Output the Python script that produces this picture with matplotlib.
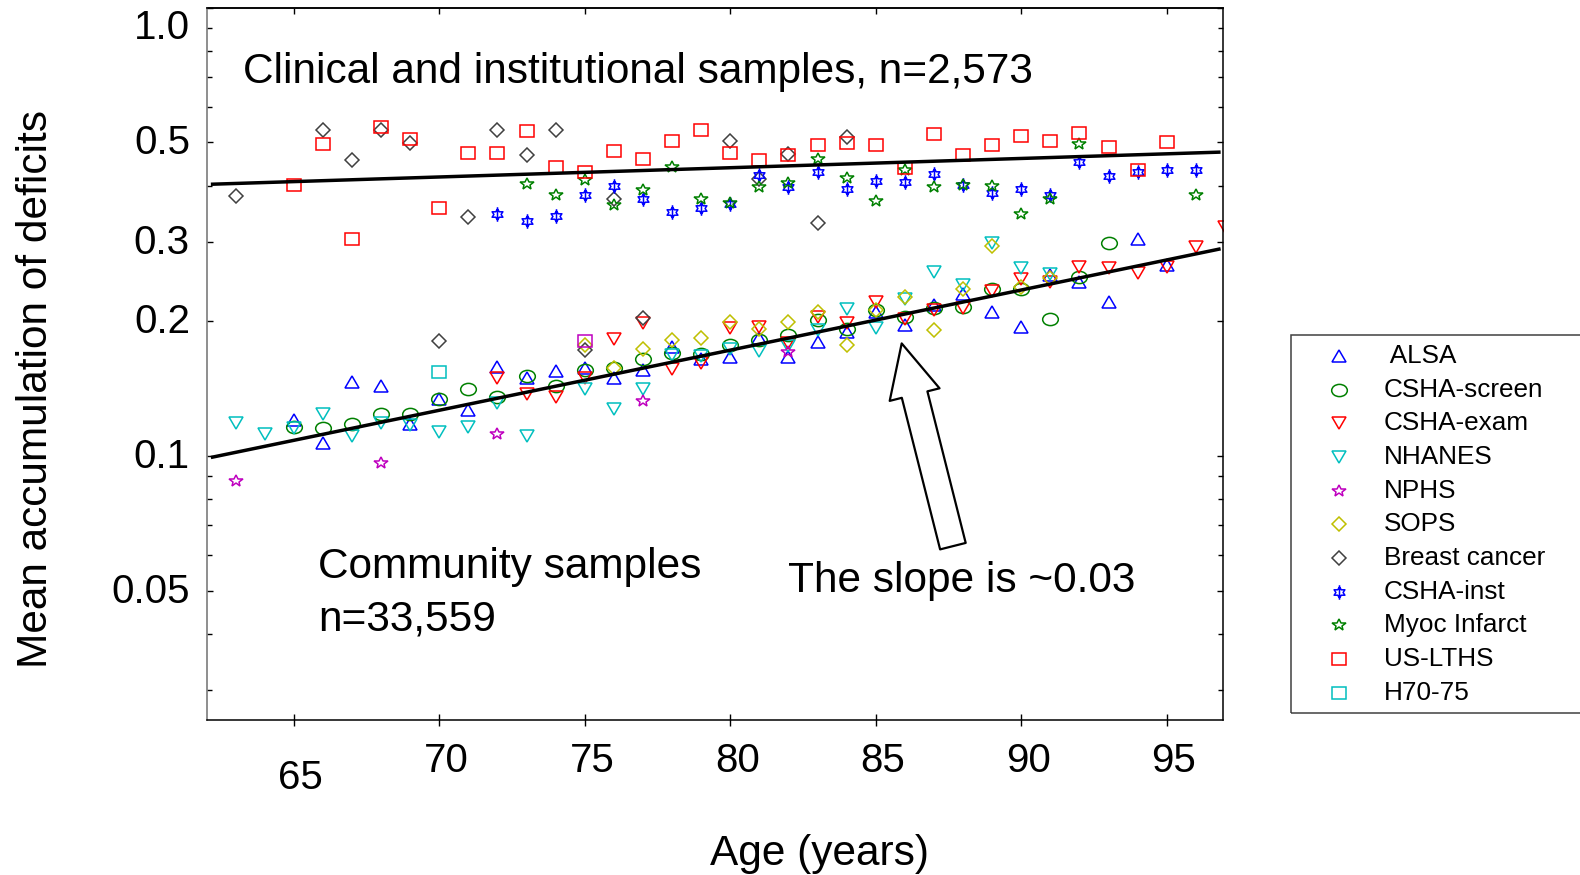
import numpy as np
import matplotlib
matplotlib.use("Agg")
import matplotlib.pyplot as plt
from matplotlib.markers import MarkerStyle
from matplotlib.path import Path
from matplotlib.transforms import Affine2D, ScaledTranslation
from matplotlib.patches import Rectangle, ArrowStyle
from matplotlib.lines import Line2D
from matplotlib.ticker import NullFormatter, NullLocator

plt.rcParams['font.family'] = ['Liberation Sans', 'DejaVu Sans']

# ---------------- data: mean deficit index by age ----------------
alsa_age = list(range(65, 96))
alsa_val = [0.120, 0.1068, 0.1462, 0.143, 0.1174, 0.134, 0.1263, 0.1574, 0.1494, 0.1544,
            0.1565, 0.149, 0.155, 0.175, 0.164, 0.166, 0.1826, 0.166, 0.1795, 0.189,
            0.2094, 0.1956, 0.2168, 0.230, 0.2094, 0.194, 0.2529, 0.2443, 0.2205, 0.3038, 0.266]

cshas_age = list(range(65, 94))
cshas_val = [0.116, 0.115, 0.1174, 0.1236, 0.124, 0.134, 0.1408, 0.1353, 0.1505, 0.1432,
             0.155, 0.157, 0.164, 0.1697, 0.169, 0.177, 0.181, 0.186, 0.201, 0.192,
             0.2113, 0.204, 0.213, 0.215, 0.236, 0.236, 0.2014, 0.2507, 0.2985]

cshae_age = list(range(72, 98))
cshae_val = [0.1494, 0.1376, 0.1349, 0.149, 0.182, 0.1973, 0.156, 0.161, 0.193, 0.194,
             0.1786, 0.204, 0.198, 0.2205, 0.202, 0.2113, 0.214, 0.2332, 0.2473, 0.2443,
             0.2638, 0.2617, 0.2559, 0.2638, 0.2924, 0.324]

nhanes_age = [63, 64, 65, 66, 67, 68, 69, 70, 71, 72, 73, 75, 76, 77, 78, 79, 80, 81,
              82, 83, 84, 85, 86, 87, 88, 89, 90, 91]
nhanes_val = [0.118, 0.1117, 0.115, 0.1236, 0.1107, 0.1184, 0.117, 0.113, 0.116, 0.1312,
              0.1107, 0.1408, 0.1274, 0.1405, 0.1676, 0.167, 0.173, 0.1714, 0.176, 0.191,
              0.212, 0.1922, 0.224, 0.2572, 0.240, 0.2976, 0.2617, 0.254]

nphs_age = [63, 68, 72, 77, 82]
nphs_val = [0.0877, 0.0961, 0.1115, 0.1323, 0.170]

sops_age = list(range(75, 92))
sops_val = [0.1765, 0.157, 0.173, 0.181, 0.1826, 0.199, 0.192, 0.199, 0.209, 0.177,
            0.211, 0.2254, 0.191, 0.235, 0.2935, 0.2373, 0.249]

breast_age = [63, 66, 67, 68, 69, 70, 71, 72, 73, 74, 75, 76, 77, 80, 81, 82, 83, 84]
breast_val = [0.380, 0.533, 0.457, 0.533, 0.499, 0.180, 0.341, 0.533, 0.469, 0.533,
              0.172, 0.373, 0.2024, 0.504, 0.414, 0.470, 0.331, 0.515]

cshai_age = list(range(72, 97))
cshai_val = [0.346, 0.334, 0.342, 0.382, 0.399, 0.373, 0.349, 0.357, 0.365, 0.423,
             0.398, 0.430, 0.393, 0.411, 0.408, 0.425, 0.402, 0.386, 0.393, 0.382,
             0.453, 0.421, 0.430, 0.434, 0.434]

myoc_age = list(range(73, 93)) + [96]
myoc_val = [0.404, 0.382, 0.412, 0.362, 0.391, 0.441, 0.373, 0.366, 0.398, 0.406,
            0.458, 0.416, 0.370, 0.435, 0.398, 0.402, 0.399, 0.347, 0.373, 0.497, 0.382]

uslths_age = list(range(65, 96))
uslths_val = [0.402, 0.495, 0.305, 0.542, 0.509, 0.357, 0.473, 0.473, 0.531, 0.440,
              0.430, 0.479, 0.458, 0.504, 0.533, 0.473, 0.457, 0.468, 0.493, 0.499,
              0.493, 0.438, 0.522, 0.469, 0.493, 0.517, 0.504, 0.526, 0.489, 0.435, 0.500]

h70_age = [70, 75]
h70_val = [0.154, 0.180]
h70_colors = ['c', 'm']

# exponential fits: value at age 62 and rate per year
community_fit = (0.0986, 0.0309)
clinical_fit = (0.403, 0.00476)
fit_ages = [62.15, 96.85]

x_ticks = [65, 70, 75, 80, 85, 90, 95]
y_major = [0.05, 0.1, 0.2, 0.3, 0.5, 1.0]
y_major_labels = ['0.05', '0.1', '0.2', '0.3', '0.5', '1.0']
y_minor = [0.03, 0.04, 0.06, 0.07, 0.08, 0.09, 0.4, 0.6, 0.7, 0.8, 0.9]

# ---------------- marker shapes ----------------
def stretched(marker, sx):
    return MarkerStyle(marker, transform=Affine2D().scale(sx, 1.0))

ang = np.deg2rad(np.arange(12) * 30 + 90)
rad = np.where(np.arange(12) % 2 == 0, 1.0, 1 / np.sqrt(3))
hex_pts = np.column_stack([rad * np.cos(ang), rad * np.sin(ang)])
hex_verts = np.vstack([hex_pts, hex_pts[:1], [[0, -1.35], [0, 1.35]]])
hex_codes = [Path.MOVETO] + [Path.LINETO] * 11 + [Path.CLOSEPOLY, Path.MOVETO, Path.LINETO]
hexagram = Path(hex_verts, hex_codes)

styles = {
    'tri_up': (stretched('^', 1.3), 8.2),
    'circle': (stretched('o', 1.28), 8.8),
    'tri_dn': (stretched('v', 1.3), 8.2),
    'star': (stretched('*', 1.2), 8.8),
    'diamond': (stretched('D', 1.12), 6.8),
    'hexagram': (MarkerStyle(hexagram, transform=Affine2D().scale(1.15, 1.0)), 10.5),
    'square': (stretched('s', 1.25), 8.6),
}
mark_lw = 1.1

series = [
    (' ALSA', alsa_age, alsa_val, 'b', 'tri_up'),
    ('CSHA-screen', cshas_age, cshas_val, 'g', 'circle'),
    ('CSHA-exam', cshae_age, cshae_val, 'r', 'tri_dn'),
    ('NHANES', nhanes_age, nhanes_val, 'c', 'tri_dn'),
    ('NPHS', nphs_age, nphs_val, 'm', 'star'),
    ('SOPS', sops_age, sops_val, 'y', 'diamond'),
    ('Breast cancer', breast_age, breast_val, '#404040', 'diamond'),
    ('CSHA-inst', cshai_age, cshai_val, 'b', 'hexagram'),
    ('Myoc Infarct', myoc_age, myoc_val, 'g', 'star'),
    ('US-LTHS', uslths_age, uslths_val, 'r', 'square'),
    ('H70-75', h70_age, h70_val, 'c', 'square'),
]

# ---------------- figure ----------------
fig = plt.figure(figsize=(15.8, 8.75), dpi=100)
ax = fig.add_axes([0.1307, 0.1771, 0.6435, 0.8143])
ax.set_yscale('log')
ax.set_xlim(62, 96.94)
ax.set_ylim(0.0257, 1.0)

for name, ages, vals, color, key in series:
    mk, ms = styles[key]
    if name == 'H70-75':
        for a, v, c in zip(ages, vals, h70_colors):
            ax.plot([a], [v], ls='none', marker=mk, ms=ms, mfc='none', mec=c, mew=mark_lw)
    else:
        ax.plot(ages, vals, ls='none', marker=mk, ms=ms, mfc='none', mec=color, mew=mark_lw)

for v0, rate in (community_fit, clinical_fit):
    fa = np.array(fit_ages)
    ax.plot(fa, v0 * np.exp(rate * (fa - 62)), color='black', lw=2.5, solid_capstyle='butt')

# ---------------- axes styling ----------------
ax.set_xticks(x_ticks)
ax.set_xticklabels([str(t) for t in x_ticks])
ax.xaxis.set_minor_locator(NullLocator())
ax.set_yticks(y_major)
ax.set_yticklabels(y_major_labels)
ax.set_yticks(y_minor, minor=True)
ax.yaxis.set_minor_formatter(NullFormatter())

ax.tick_params(axis='x', which='major', direction='inout', length=8.4, width=1.0,
               labelsize=29, pad=11.5, top=False)
ax.tick_params(axis='y', which='major', direction='in', length=4.5, width=1.0,
               labelsize=29, pad=11.9, right=True)
ax.tick_params(axis='y', which='minor', direction='in', length=3.6, width=1.0, right=True)

for side, sp in ax.spines.items():
    sp.set_linewidth(1.1)
    sp.set_color('black')
ax.spines['left'].set_color('#707070')

top_ax = ax.secondary_xaxis('top')
top_ax.set_xticks(x_ticks)
top_ax.tick_params(direction='in', length=4.0, width=1.0, labeltop=False)
top_ax.spines['top'].set_linewidth(1.1)

# nudge tick labels
for lab in ax.get_xticklabels():
    dy = -17 / 100 if lab.get_text() == '65' else 0
    lab.set_transform(lab.get_transform() + ScaledTranslation(7 / 100, dy, fig.dpi_scale_trans))
for lab in ax.get_yticklabels():
    dy = -16 / 100 if lab.get_text() == '1.0' else 3 / 100
    lab.set_transform(lab.get_transform() + ScaledTranslation(0, dy, fig.dpi_scale_trans))

# ---------------- text ----------------
big = 30.5
ax.text(0.0362, 0.8936, 'Clinical and institutional samples, n=2,573', transform=ax.transAxes,
        fontsize=big, ha='left', va='baseline')
ax.text(0.110, 0.1989, 'Community samples', transform=ax.transAxes,
        fontsize=big, ha='left', va='baseline')
ax.text(0.110, 0.1263, 'n=33,559', transform=ax.transAxes,
        fontsize=big, ha='left', va='baseline')
ax.text(0.5722, 0.180, 'The slope is ~0.03', transform=ax.transAxes,
        fontsize=big, ha='left', va='baseline')

arrow_tip = (85.89, 0.178)
arrow_tail = (87.65, 0.0628)
ax.annotate('', xy=arrow_tip, xytext=arrow_tail,
            arrowprops=dict(arrowstyle=ArrowStyle('Simple', head_length=38, head_width=37,
                                                  tail_width=19),
                            mutation_scale=1, fc='white', ec='black', lw=1.6,
                            shrinkA=0, shrinkB=0))

fig.text(36 / 1580, 1 - 389 / 875, 'Mean accumulation of deficits', rotation=90,
         fontsize=big, ha='center', va='center')
fig.text(820 / 1580, 1 - 865 / 875, 'Age (years)', fontsize=big, ha='center', va='baseline')

# ---------------- legend box ----------------
fig.add_artist(Rectangle((1290.7 / 1580, 1 - 713 / 875), (1620 - 1290.7) / 1580, (713 - 335) / 875,
                         transform=fig.transFigure, fill=False, ec='#404040', lw=1.1,
                         clip_on=False))
for i, (name, ages, vals, color, key) in enumerate(series):
    mk, ms = styles[key]
    yy = 1 - (356 + i * 33.67) / 875
    fig.add_artist(Line2D([1339 / 1580], [yy], transform=fig.transFigure, ls='none', marker=mk,
                          ms=ms, mfc='none', mec=color, mew=mark_lw))
    fig.text(1384 / 1580, yy, name, fontsize=18.8, ha='left', va='center')

fig.savefig('out.png', dpi=100)
